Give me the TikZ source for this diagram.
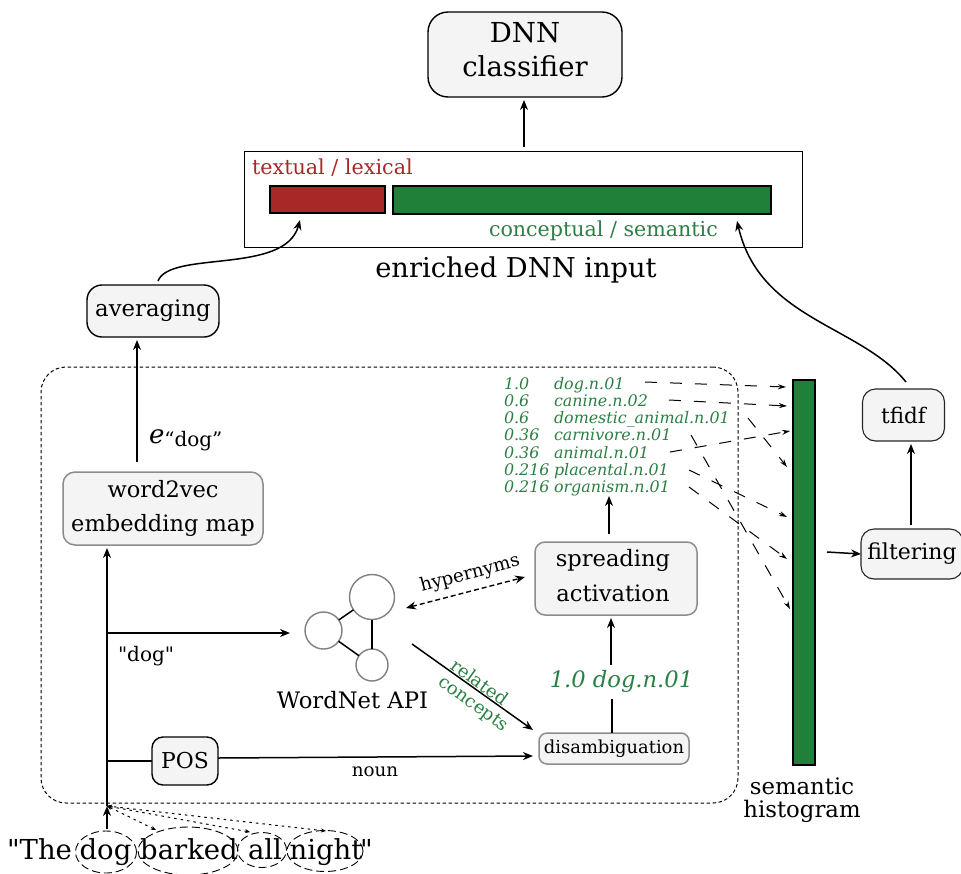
\documentclass[tikz,border=0pt]{standalone}
\usepackage{fontspec}
\setmainfont{DejaVu Serif}
\newfontfamily\qfont{DejaVu Serif}
\usetikzlibrary{arrows.meta,shapes.geometric}
\definecolor{boxfill}{HTML}{F4F4F4}
\definecolor{barred}{HTML}{A82828}
\definecolor{bargreen}{HTML}{207F38}
\definecolor{txtgreen}{HTML}{2A7F42}
\tikzset{
 every node/.style={inner sep=0pt,outer sep=0pt},
 blackbox/.style={draw=black,line width=1.4pt,fill=boxfill,rounded corners=#1,align=center},
 graybox/.style={draw=gray!90,line width=1.5pt,fill=boxfill,rounded corners=#1,align=center},
 flow/.style={line width=1.5pt,-{Stealth[length=10pt,width=8pt]}},
 flowgap/.style={flow,shorten >=3pt},
 plain/.style={line width=1.5pt},
 hist/.style={line width=1pt,dash pattern=on 12pt off 13pt,-{Stealth[length=8pt,width=5pt]}},
 wordnode/.style={draw=black,line width=.9pt,dash pattern=on 8pt off 4pt,ellipse},
 wordtext/.style={anchor=base,font=\fontsize{27.5}{30}\selectfont},
 wnc/.style={circle,draw=gray,line width=1.4pt,fill=white},
 listnum/.style={anchor=base west,text=txtgreen,font=\fontsize{15.9}{18}\selectfont\itshape},
 toks/.style={line width=1pt,dash pattern=on 2.5pt off 4pt,{Stealth[length=5pt,width=4pt]}-{Stealth[length=5pt,width=4pt]}},
}
\begin{document}
\begin{tikzpicture}[x=1pt,y=-1pt]
\useasboundingbox (0,0) rectangle (961,873);
% top
\node[blackbox=20pt,minimum width=194pt,minimum height=85pt] (dnn) at (525,54.5) {};
\node[align=center,font=\fontsize{27.5}{34}\selectfont] (dnnT) at (525,50) {DNN\\classifier};
\node[draw=black,line width=.8pt,minimum width=558pt,minimum height=96pt] (input) at (523,199) {};
\node[draw=black,line width=1.3pt,fill=barred,minimum width=115pt,minimum height=27pt] (red) at (327.5,199.5) {};
\node[draw=black,line width=1.3pt,fill=bargreen,minimum width=378pt,minimum height=28pt] (green) at (582,200) {};
\node[anchor=base west,text=barred,font=\fontsize{20.7}{24}\selectfont] (lex) at (252,174) {textual / lexical};
\node[anchor=base west,text=txtgreen,font=\fontsize{20.6}{24}\selectfont] (sem) at (489,236) {conceptual / semantic};
\node[font=\fontsize{27.3}{32}\selectfont,anchor=base] (inlab) at (516,277) {enriched DNN input};
\coordinate (inTop) at (524,147);
\draw[flowgap] (inTop) -- (dnn.south -| inTop);
\node[blackbox=15pt,minimum width=132pt,minimum height=52pt,font=\fontsize{22.8}{26}\selectfont] (avg) at (153,311) {averaging};
\coordinate (avgOut) at (158,281);
\coordinate (redIn) at (300,220);
\draw[flow] (avgOut) .. controls (170,250) and (285,275) .. (redIn);
% dashed frame
\node[draw=black,line width=1pt,dash pattern=on 3.5pt off 2.5pt,rounded corners=25pt,minimum width=697pt,minimum height=436pt] (frame) at (389.5,585) {};
% word2vec
\node[graybox=12pt,minimum width=200pt,minimum height=73pt,font=\fontsize{22.5}{34}\selectfont] (w2v) at (163,508.5) {word2vec\\embedding map};
\coordinate (w2vTop) at (137,462);
\draw[flowgap] (w2vTop) -- (avg.south -| w2vTop);
\node[anchor=base west] (edog) at (149,443) {\fontsize{26}{30}\selectfont\itshape e\fontsize{20}{24}\selectfont\upshape\raisebox{-3pt}{“dog”}};
% trunk
\coordinate (trunk) at (107,806);
\node[wordnode,minimum width=61pt,minimum height=42pt] (dogE) at (106,852) {};
\node[wordnode,minimum width=100pt,minimum height=48pt] (barkedE) at (188,851) {};
\node[wordnode,minimum width=49pt,minimum height=35pt] (allE) at (262,850) {};
\node[wordnode,minimum width=76pt,minimum height=41pt] (nightE) at (325,851) {};
\node[wordtext] (dog) at (105.5,859) {dog};
\node[wordtext] (barked) at (189,859) {barked};
\node[wordtext] (all) at (265,859) {all};
\node[wordtext] (night) at (326,859) {night};
\node[wordtext,anchor=base east] (the) at (72,859) {\qfont"The};
\node[wordtext,anchor=base west] (quote) at (360,859) {\qfont"};
\coordinate (dogTop) at (107,829);
\coordinate (bTop) at (156,830);
\coordinate (aTop) at (250,832);
\coordinate (nTop) at (326,831);
\draw[flow,line width=1.2pt] (dogTop) -- (trunk);
\draw[toks] (bTop) -- (trunk);
\draw[toks] (aTop) -- (trunk);
\draw[toks] (nTop) -- (trunk);
\draw[flowgap] (trunk) -- (w2v.south -| trunk);
% WordNet
\node[wnc,minimum size=45pt] (c1) at (372,597) {};
\node[wnc,minimum size=37pt] (c2) at (323.5,630.5) {};
\node[wnc,minimum size=32pt] (c3) at (372,665) {};
\draw[plain] (c1) -- (c2);
\draw[plain] (c1) -- (c3);
\draw[plain] (c2) -- (c3);
\node[font=\fontsize{22.7}{26}\selectfont,anchor=base] (wn) at (352.5,708) {WordNet API};
\coordinate (t1) at (107,633);
\coordinate (wnIn) at (290,633);
\draw[flow] (t1) -- (wnIn);
\node[font=\fontsize{20}{24}\selectfont\qfont,anchor=base west] (dogq) at (118,661) {"dog"};
% POS
\node[blackbox=11pt,minimum width=66pt,minimum height=48pt,font=\fontsize{21.9}{26}\selectfont] (pos) at (185,761) {POS};
\coordinate (t2) at (107,761);
\draw[plain] (t2) -- (pos.west);
% disambiguation
\node[graybox=8pt,minimum width=150pt,minimum height=31pt,font=\fontsize{17.9}{22}\selectfont] (dis) at (614,748.5) {disambiguation};
\coordinate (disIn) at (533,756);
\draw[flow] (pos.east) ++(0,-3) -- (disIn);
\node[font=\fontsize{18.3}{22}\selectfont,anchor=base] (noun) at (375,776) {noun};
% related
\coordinate (wnOut) at (412,644);
\coordinate (disIn2) at (533,730);
\draw[flow] (wnOut) -- (disIn2);
\node[rotate=-36,text=txtgreen,font=\fontsize{18}{22}\selectfont] (rel) at (480,682) {related};
\node[rotate=-36,text=txtgreen,font=\fontsize{18}{22}\selectfont] (conc) at (473,705) {concepts};
% spreading
\node[graybox=10pt,minimum width=162pt,minimum height=73pt] (spread) at (616,578.5) {};
\node[align=center,font=\fontsize{22.6}{35}\selectfont] (spreadT) at (613,576) {spreading\\activation};
\coordinate (hypL) at (406,608);
\coordinate (hypR) at (525,577);
\draw[line width=1.4pt,dash pattern=on 5pt off 3pt,{Stealth[length=10pt,width=8pt]}-{Stealth[length=10pt,width=8pt]}] (hypL) -- (hypR);
\node[rotate=15,font=\fontsize{18.3}{22}\selectfont] (hyp) at (470,574) {hypernyms};
\node[text=txtgreen,font=\fontsize{22.6}{26}\selectfont\itshape,anchor=base] (one) at (621.5,687) {1.0 dog.n.01};
\coordinate (oneB) at (612,699);
\coordinate (oneT) at (611,665);
\draw[plain] (dis.north -| oneB) -- (oneB);
\draw[flowgap] (oneT) -- (spread.south -| oneT);
% list
\node[listnum] (n1) at (504,389) {1.0};
\node[listnum] (n2) at (504,406.3) {0.6};
\node[listnum] (n3) at (504,423.6) {0.6};
\node[listnum] (n4) at (504,440.9) {0.36};
\node[listnum] (n5) at (504,458.2) {0.36};
\node[listnum] (n6) at (504,475.5) {0.216};
\node[listnum] (n7) at (504,492.8) {0.216};
\node[listnum] (l1) at (554,389) {dog.n.01};
\node[listnum] (l2) at (554,406.3) {canine.n.02};
\node[listnum] (l3) at (554,423.6) {domestic\_animal.n.01};
\node[listnum] (l4) at (554,440.9) {carnivore.n.01};
\node[listnum] (l5) at (554,458.2) {animal.n.01};
\node[listnum] (l6) at (554,475.5) {placental.n.01};
\node[listnum] (l7) at (554,492.8) {organism.n.01};
\coordinate (spreadTop) at (609,534);
\coordinate (listB) at (609,496);
\draw[flow] (spreadTop) -- (listB);
% histogram
\node[draw=black,line width=1.3pt,fill=bargreen,minimum width=22pt,minimum height=385pt] (bar) at (804,572.5) {};
\node[font=\fontsize{22.8}{23}\selectfont,align=center] (histlab) at (802,800) {semantic\\histogram};
\coordinate (a1) at (645,382); \coordinate (b1) at (786,387);
\coordinate (a2) at (669,400); \coordinate (b2) at (787,406);
\coordinate (a3) at (748,418); \coordinate (b3) at (787,467);
\coordinate (a4) at (670,452); \coordinate (b4) at (790,431);
\coordinate (a5) at (691,435); \coordinate (b5) at (790,609);
\coordinate (a6) at (689,470); \coordinate (b6) at (787,517);
\coordinate (a7) at (689,487); \coordinate (b7) at (787,559);
\draw[hist] (a1) -- (b1);
\draw[hist] (a2) -- (b2);
\draw[hist] (a3) -- (b3);
\draw[hist] (a4) -- (b4);
\draw[hist] (a5) -- (b5);
\draw[hist] (a6) -- (b6);
\draw[hist] (a7) -- (b7);
% right
\node[blackbox=13pt,draw=black!85,line width=1.1pt,minimum width=82pt,minimum height=52pt,font=\fontsize{21.5}{26}\selectfont] (tfidf) at (903.5,415) {tfidf};
\node[blackbox=13pt,draw=black!85,line width=1.1pt,minimum width=102pt,minimum height=50pt,font=\fontsize{22}{26}\selectfont] (filt) at (912,554) {filtering};
\coordinate (barOut) at (827,552);
\draw[flow] (barOut) -- (filt.west);
\coordinate (filtUp) at (911,525);
\draw[flowgap] (filtUp) -- (tfidf.south -| filtUp);
\coordinate (tfOut) at (906,382);
\coordinate (greenIn) at (737,221);
\draw[flow] (tfOut) .. controls (860,325) and (760,320) .. (greenIn);
\end{tikzpicture}
\end{document}
